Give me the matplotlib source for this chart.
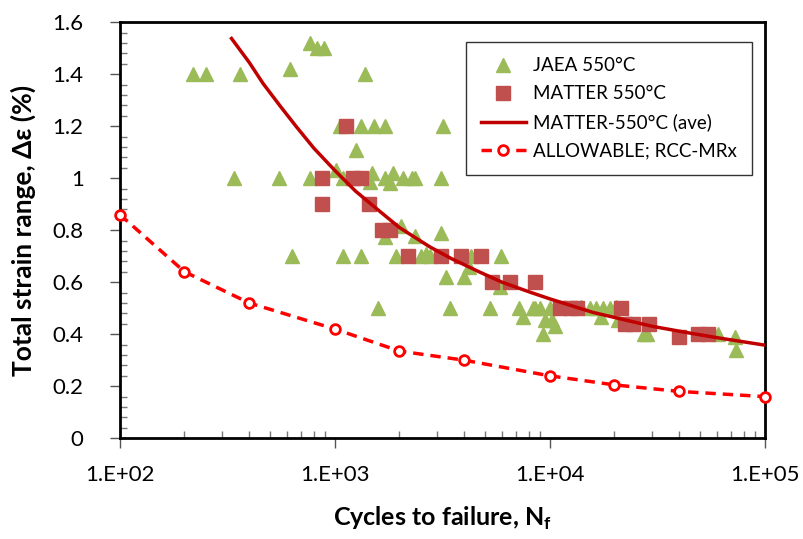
import matplotlib
matplotlib.use('Agg')
import matplotlib.pyplot as plt
import numpy as np
from matplotlib.ticker import FuncFormatter, MultipleLocator, LogLocator

plt.rcParams['font.family'] = ['Lato', 'DejaVu Sans']
plt.rcParams['mathtext.fontset'] = 'custom'
plt.rcParams['mathtext.rm'] = 'Lato'
plt.rcParams['mathtext.bf'] = 'Lato:bold'

# JAEA 550C data (cycles, strain range %)
jaea_n = [219, 251, 362, 339, 550, 618, 631, 770, 826, 889, 770, 1019, 1055, 1094, 1094,
          1318, 1517, 1710, 3191, 1390, 1253, 1490, 1466, 1710, 1803, 1867, 2080, 2276,
          2357, 3133, 1710, 2042, 2357, 3133, 1330, 1922, 2531, 2650, 2766, 4316, 5960,
          4218, 3305, 3998, 5848, 1588, 3447, 5300, 7175, 7515, 8510, 9000, 9480, 9300,
          8350, 10000, 10200, 10540, 14040, 15350, 16490, 17700, 17390, 19010, 20420,
          20780, 27360, 28290, 60620, 72440, 73280]
jaea_e = [1.4, 1.4, 1.4, 1.0, 1.0, 1.42, 0.7, 1.52, 1.5, 1.5, 1.0, 1.03, 1.2, 1.0, 0.7,
          1.2, 1.2, 1.2, 1.2, 1.4, 1.11, 1.02, 0.985, 1.0, 0.98, 1.02, 1.0, 1.0,
          1.0, 1.0, 0.775, 0.815, 0.777, 0.79, 0.7, 0.7, 0.7, 0.71, 0.7, 0.7, 0.7,
          0.66, 0.62, 0.62, 0.58, 0.5, 0.5, 0.5, 0.5, 0.467, 0.5, 0.5, 0.454, 0.4,
          0.5, 0.5, 0.454, 0.43, 0.505, 0.5, 0.5, 0.5, 0.467, 0.5, 0.505,
          0.454, 0.4, 0.4, 0.4, 0.39, 0.338]

# MATTER 550C data
matter_n = [873, 873, 1125, 1216, 1330, 1443, 1667, 1816, 2193, 3133, 3882, 4807, 5380,
            6515, 8510, 11220, 12390, 13400, 21520, 22340, 24440, 28990, 39810, 48950, 54490]
matter_e = [1.0, 0.9, 1.2, 1.0, 1.0, 0.9, 0.8, 0.8, 0.7, 0.7, 0.7, 0.7, 0.6,
            0.6, 0.6, 0.5, 0.5, 0.5, 0.5, 0.44, 0.44, 0.44, 0.39, 0.4, 0.4]

# MATTER average curve
ave_n = [331, 400, 464, 560, 664, 800, 1000, 1250, 1563, 2000, 2766, 3500, 4720, 6000,
         8070, 10000, 15850, 30130, 45000, 61660, 100000]
ave_e = [1.537, 1.445, 1.364, 1.275, 1.197, 1.115, 1.03, 0.95, 0.883, 0.81, 0.736, 0.69,
         0.639, 0.6, 0.562, 0.536, 0.484, 0.43, 0.404, 0.385, 0.358]

# RCC-MRx allowable
allow_n = [100, 200, 400, 1000, 2000, 4000, 10000, 20000, 40000, 100000]
allow_e = [0.86, 0.64, 0.52, 0.42, 0.335, 0.30, 0.24, 0.205, 0.18, 0.16]

fig = plt.figure(figsize=(8.04, 5.39), dpi=100)
ax = fig.add_axes([0.149, 0.187, 0.802, 0.772])

ax.plot(jaea_n, jaea_e, linestyle='none', marker='^', markersize=10,
        color='#9BBB59', markeredgecolor='#9BBB59', label='JAEA 550°C', zorder=3)
ax.plot(matter_n, matter_e, linestyle='none', marker='s', markersize=10,
        color='#C0504D', markeredgecolor='#C0504D', label='MATTER 550°C', zorder=4)
ax.plot(ave_n, ave_e, color='#C00000', lw=2.5, label='MATTER-550°C (ave)', zorder=5)
ax.plot(allow_n, allow_e, color='#FF0000', lw=2.5, linestyle=(0, (3, 2)),
        marker='o', markersize=7, markerfacecolor='white', markeredgecolor='#FF0000',
        markeredgewidth=2, label='ALLOWABLE; RCC-MRx', zorder=6, clip_on=False)

ax.set_xscale('log')
ax.set_xlim(100, 100000)
ax.set_ylim(0, 1.6)
ax.yaxis.set_major_locator(MultipleLocator(0.2))
ax.yaxis.set_minor_locator(MultipleLocator(0.04))
ax.xaxis.set_major_locator(LogLocator(base=10))
ax.xaxis.set_minor_locator(LogLocator(base=10, subs=np.arange(2, 10)))
ax.xaxis.set_major_formatter(FuncFormatter(lambda v, p: '1.E+%02d' % int(round(np.log10(v)))))
ax.xaxis.set_minor_formatter(FuncFormatter(lambda v, p: ''))
ax.yaxis.set_major_formatter(FuncFormatter(lambda v, p: '%g' % round(v, 2)))

ax.tick_params(which='major', direction='out', length=7, width=1, colors='#555555',
               labelcolor='black', labelsize=16)
ax.tick_params(axis='x', which='major', pad=12)
ax.tick_params(axis='y', which='major', pad=19)
ax.tick_params(which='minor', direction='in', length=5, width=1, colors='#777777')
for s in ax.spines.values():
    s.set_linewidth(2)
    s.set_color('black')

ax.set_xlabel('Cycles to failure, N$_\\mathregular{f}$', fontsize=18, fontweight='bold')
ax.set_ylabel('Total strain range, Δε (%)', fontsize=19, fontweight='bold')
ax.xaxis.set_label_coords(0.5, -0.16)
ax.yaxis.set_label_coords(-0.13, 0.5)

leg = ax.legend(loc='upper right', bbox_to_anchor=(0.981, 0.952), fontsize=13.5,
                frameon=True, fancybox=False, edgecolor='black', handlelength=2.4,
                borderpad=0.8, labelspacing=0.6, handletextpad=0.4, borderaxespad=0)
leg.get_frame().set_linewidth(1)

fig.savefig('out.png', dpi=100)
